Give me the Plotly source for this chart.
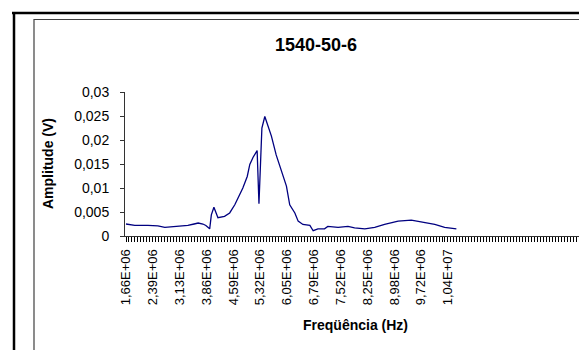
import plotly.graph_objects as go

# ---- data (frequency in MHz, amplitude in V) ----
freq_mhz = [1.66, 1.90, 2.26, 2.53, 2.72, 2.89, 3.08, 3.35, 3.52, 3.63, 3.76, 3.84,
            3.945, 3.99, 4.06, 4.12, 4.17, 4.35, 4.49, 4.63, 4.72, 4.85, 4.97, 5.04,
            5.13, 5.24, 5.29, 5.37, 5.45, 5.54, 5.63, 5.76, 5.90, 6.04, 6.13, 6.27,
            6.36, 6.49, 6.68, 6.77, 6.90, 7.08, 7.17, 7.45, 7.72, 7.90, 8.18, 8.45,
            8.72, 9.09, 9.45, 9.72, 10.09, 10.36, 10.68]
amplitude = [0.0025, 0.0022, 0.0022, 0.0021, 0.0018, 0.0019, 0.0020, 0.0022, 0.0025, 0.0027, 0.0025, 0.0022,
             0.0015, 0.0044, 0.0060, 0.0048, 0.0038, 0.0041, 0.0048, 0.0065, 0.0079, 0.0100, 0.0124, 0.0149,
             0.0164, 0.0178, 0.0067, 0.0225, 0.0249, 0.0229, 0.0208, 0.0169, 0.0135, 0.0104, 0.0065, 0.0048,
             0.0031, 0.0024, 0.0022, 0.0011, 0.0015, 0.0015, 0.0020, 0.0018, 0.0020, 0.0017, 0.0015, 0.0018,
             0.0024, 0.0031, 0.0033, 0.0029, 0.0024, 0.0018, 0.0015]

x_tick_vals_mhz = [1.66, 2.3925, 3.125, 3.8575, 4.59, 5.3225, 6.055, 6.7875, 7.52, 8.2525, 8.985, 9.7175, 10.45]
x_tick_text = ["1,66E+06", "2,39E+06", "3,13E+06", "3,86E+06", "4,59E+06", "5,32E+06", "6,05E+06",
               "6,79E+06", "7,52E+06", "8,25E+06", "8,98E+06", "9,72E+06", "1,04E+07"]
category_step_mhz = 0.0813889   # one category = 1/9 of a label interval

y_tick_vals = [0, 0.005, 0.01, 0.015, 0.02, 0.025, 0.03]
y_tick_text = ["0", "0,005", "0,01", "0,015", "0,02", "0,025", "0,03"]

title_text = "1540-50-6"
x_title = "Freqüência (Hz)"
y_title = "Amplitude (V)"

# ---- layout geometry ----
W, H = 587, 350
L, R, T, B = 117, 577, 84, 228   # plot area in pixels


def px(x):
    return (x - L) / (R - L)


def py(y):
    return (B - y) / (B - T)


x_freq = [f * 1e6 for f in freq_mhz]
tickvals = [f * 1e6 for f in x_tick_vals_mhz]
step = category_step_mhz * 1e6
x0 = tickvals[0] - (118 - L) / 26.83 * (tickvals[1] - tickvals[0])
x1 = x0 + (R - L) / 26.83 * (tickvals[1] - tickvals[0])

font_family = "Arial, Liberation Sans, sans-serif"

fig = go.Figure()
fig.add_trace(go.Scatter(
    x=x_freq, y=amplitude, mode="lines",
    line=dict(color="#000080", width=1.3),
    showlegend=False, hoverinfo="skip",
))

axis_color = "#333333"
fig.update_xaxes(
    range=[x0, x1], showgrid=False, zeroline=False,
    showline=True, linecolor=axis_color, linewidth=1,
    tickmode="array", tickvals=tickvals, ticktext=x_tick_text,
    tickangle=-90, ticks="outside", ticklen=5, tickcolor="#000000", tickwidth=1,
    ticklabelstandoff=2,
    tickfont=dict(family=font_family, size=13, color="#000000"),
    minor=dict(tickmode="linear", tick0=tickvals[0], dtick=step,
               ticks="outside", ticklen=5, tickcolor="#000000", tickwidth=1, showgrid=False),
)
fig.update_yaxes(
    range=[0, 0.03], showgrid=False, zeroline=False,
    showline=True, linecolor=axis_color, linewidth=1,
    tickmode="array", tickvals=y_tick_vals, ticktext=y_tick_text,
    ticks="outside", ticklen=4, tickcolor=axis_color, tickwidth=1,
    ticklabelstandoff=8,
    tickfont=dict(family=font_family, size=14, color="#000000"),
)

shapes = [
    # outer black frame (top and left visible)
    dict(type="line", xref="paper", yref="paper", x0=px(4), x1=px(600), y0=py(5), y1=py(5),
         line=dict(color="#000000", width=2.5)),
    dict(type="line", xref="paper", yref="paper", x0=px(6), x1=px(6), y0=py(4), y1=py(360),
         line=dict(color="#000000", width=2.5)),
    # inner grey frame of chart area
    dict(type="rect", xref="paper", yref="paper", x0=px(26), x1=px(620), y0=py(347.5), y1=py(11.5),
         line=dict(color="#404040", width=1.2), fillcolor="rgba(0,0,0,0)"),
]

annotations = [
    dict(text=f"<b>{title_text}</b>", xref="paper", yref="paper", x=px(308), y=py(37),
         showarrow=False, xanchor="center", yanchor="middle",
         font=dict(family=font_family, size=18, color="#000000")),
    dict(text=f"<b>{y_title}</b>", xref="paper", yref="paper", x=px(40), y=py(156),
         showarrow=False, xanchor="center", yanchor="middle", textangle=-90,
         font=dict(family=font_family, size=14, color="#000000")),
    dict(text=f"<b>{x_title}</b>", xref="paper", yref="paper", x=px(347), y=py(317),
         showarrow=False, xanchor="center", yanchor="middle",
         font=dict(family=font_family, size=14, color="#000000")),
]

fig.update_layout(
    width=W, height=H,
    margin=dict(l=L, r=W - R, t=T, b=H - B, pad=0),
    paper_bgcolor="#ffffff", plot_bgcolor="#ffffff",
    shapes=shapes, annotations=annotations,
    showlegend=False,
)

fig.write_html("out.html")
